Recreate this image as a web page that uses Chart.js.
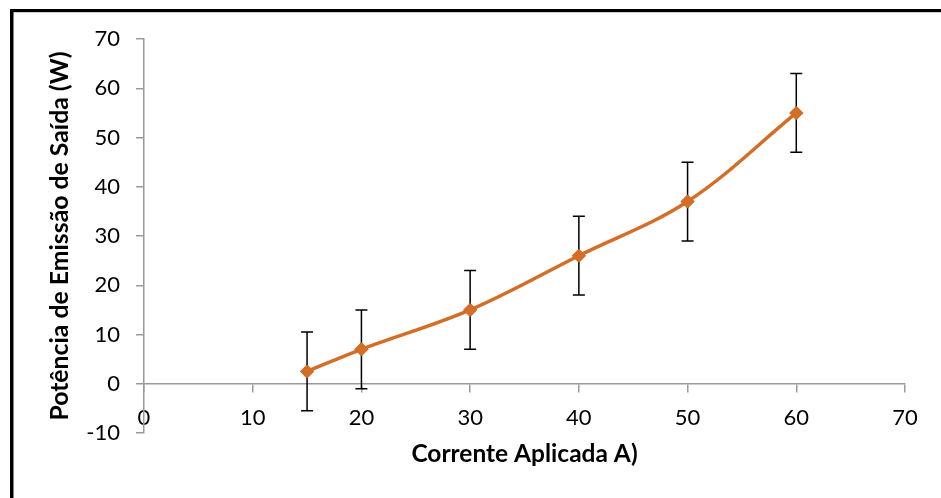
<!DOCTYPE html>
<html>
<head>
<meta charset="utf-8">
<script src="https://cdn.jsdelivr.net/npm/chart.js@4/dist/chart.umd.min.js"></script>
<style>
  html, body { margin: 0; padding: 0; background: #fff; }
  #wrap { width: 941px; height: 498px; }
</style>
</head>
<body>
<div id="wrap"><canvas id="c" width="941" height="498"></canvas></div>
<script>
// Data
const currentValues = [15, 20, 30, 40, 50, 60];          // Corrente Aplicada (A)
const powerValues   = [2.5, 7, 15, 26, 37, 55];          // Potência de Emissão de Saída (W)
const errorValues   = [8, 8, 8, 8, 8, 8];                // ± error bar
const xTitle = 'Corrente Aplicada A)';
const yTitle = 'Potência de Emissão de Saída (W)';
const xMin = 0, xMax = 70, xStep = 10;
const yMin = -10, yMax = 70, yStep = 10;

const points = currentValues.map((x, i) => ({ x: x, y: powerValues[i] }));

const ORANGE = 'rgb(212,110,38)';
const AXIS = '#9a9a9a';
const FONT = 'Lato, Carlito, Calibri, "Open Sans", sans-serif';

const frameAndErrors = {
  id: 'frameAndErrors',
  beforeDraw(chart) {
    const ctx = chart.ctx;
    ctx.save();
    ctx.fillStyle = '#ffffff';
    ctx.fillRect(0, 0, chart.width, chart.height);
    ctx.fillStyle = '#000000';
    ctx.fillRect(10, 9, 3.5, chart.height - 9);
    ctx.fillRect(10, 9, chart.width - 10, 3.2);
    ctx.restore();
  },
  afterDatasetsDraw(chart) {
    const ctx = chart.ctx;
    const xs = chart.scales.x, ys = chart.scales.y;
    ctx.save();
    ctx.strokeStyle = '#000000';
    ctx.lineWidth = 1.5;
    const cap = 6;
    currentValues.forEach((xv, i) => {
      const px = xs.getPixelForValue(xv);
      const top = ys.getPixelForValue(powerValues[i] + errorValues[i]);
      const bot = ys.getPixelForValue(powerValues[i] - errorValues[i]);
      ctx.beginPath();
      ctx.moveTo(px, top); ctx.lineTo(px, bot);
      ctx.moveTo(px - cap, top); ctx.lineTo(px + cap, top);
      ctx.moveTo(px - cap, bot); ctx.lineTo(px + cap, bot);
      ctx.stroke();
    });
    ctx.restore();
    // redraw markers on top of error bars
    const meta = chart.getDatasetMeta(0);
    meta.data.forEach(el => el.draw(ctx, chart.chartArea));
  }
};

new Chart(document.getElementById('c'), {
  type: 'scatter',
  data: {
    datasets: [{
      data: points,
      showLine: true,
      tension: 0.35,
      borderColor: ORANGE,
      backgroundColor: ORANGE,
      borderWidth: 3.5,
      pointStyle: 'rectRot',
      pointRadius: 7,
      pointHoverRadius: 7,
      pointBackgroundColor: ORANGE,
      pointBorderColor: ORANGE,
      pointBorderWidth: 0
    }]
  },
  options: {
    responsive: false,
    animation: false,
    events: [],
    layout: { padding: { top: 39, left: 14, right: 36, bottom: 65 } },
    plugins: { legend: { display: false }, tooltip: { enabled: false } },
    scales: {
      x: {
        type: 'linear',
        position: { y: 0 },
        min: xMin, max: xMax,
        ticks: { stepSize: xStep, color: '#000', font: { family: FONT, size: 22 }, padding: 13, maxRotation: 0 },
        grid: { drawOnChartArea: false, drawTicks: true, tickLength: 8, color: AXIS, lineWidth: 1.5 },
        border: { display: true, color: AXIS, width: 1.5 },
        title: { display: true, text: xTitle, color: '#000', font: { family: FONT, size: 24.5, weight: 'bold' }, padding: { top: -5, bottom: 0 } }
      },
      y: {
        type: 'linear',
        position: 'left',
        min: yMin, max: yMax,
        ticks: { stepSize: yStep, color: '#000', font: { family: FONT, size: 22 }, padding: 16 },
        grid: { drawOnChartArea: false, drawTicks: true, tickLength: 8, color: AXIS, lineWidth: 1.5 },
        border: { display: true, color: AXIS, width: 1.5 },
        title: { display: true, text: yTitle, color: '#000', font: { family: FONT, size: 24.8, weight: 'bold' }, padding: { top: 31.5, bottom: 0 } },
        afterFit(scale) { scale.width = 130; }
      }
    }
  },
  plugins: [frameAndErrors]
});
</script>
</body>
</html>
